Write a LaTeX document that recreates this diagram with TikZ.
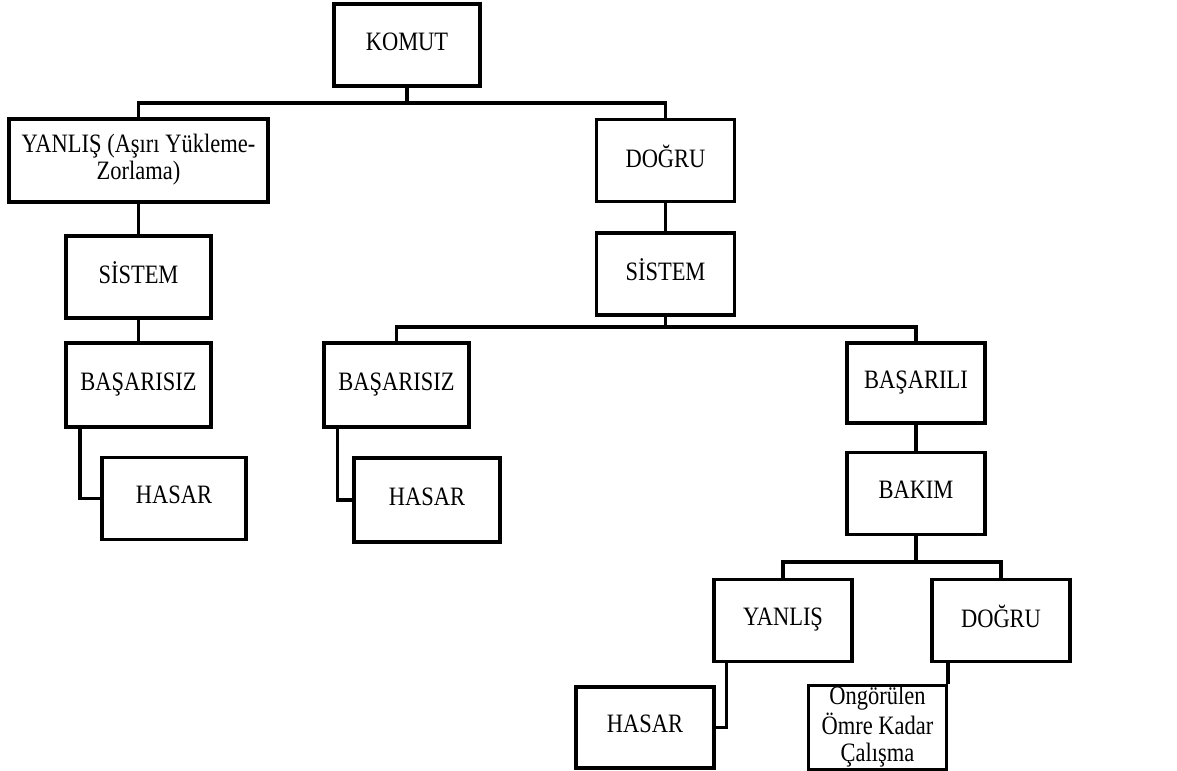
\documentclass[tikz,border=0pt]{standalone}
\usepackage{fontspec}
\setmainfont{Liberation Serif}
\usepackage{graphicx}
\usepackage{tikz}

% Text in the boxes is a little taller than wide
\newcommand{\boxtext}[1]{\scalebox{1}[1.18]{\renewcommand{\arraystretch}{1}%
  \begin{tabular}{@{}c@{}}#1\end{tabular}}}

\begin{document}
\begin{tikzpicture}[
  x=0.02cm, y=-0.02cm,
  box/.style={draw, line width=2pt, align=center, inner sep=1pt,
    font=\fontsize{12.8}{13.2}\selectfont},
  smallbox/.style={box, minimum width=2.76cm, minimum height=1.64cm},
  wide/.style={box, minimum width=5.18cm, minimum height=1.66cm},
  flow/.style={line width=2pt}]

\useasboundingbox (0,0) rectangle (1177,771);

% Position the nodes at their coordinates
\node[smallbox, minimum width=2.92cm] (komut) at (407,45) {\boxtext{KOMUT}};
\node[wide] (yanlisA) at (138.5,160.5) {\boxtext{YANLIŞ (Aşırı Yükleme-\\Zorlama)}};
\node[smallbox, minimum width=2.9cm] (sistemL) at (138.5,277) {\boxtext{SİSTEM}};
\node[smallbox, minimum width=2.9cm, minimum height=1.68cm] (basarisizL) at (138.5,385) {\boxtext{BAŞARISIZ}};
\node[smallbox, minimum width=2.88cm] (hasarL) at (174,498.5) {\boxtext{HASAR}};
\node[smallbox] (dogruT) at (665.5,160.5) {\boxtext{DOĞRU}};
\node[smallbox] (sistemR) at (665.5,274) {\boxtext{SİSTEM}};
\node[smallbox, minimum width=2.9cm, minimum height=1.68cm] (basarisizM) at (396.5,385) {\boxtext{BAŞARISIZ}};
\node[smallbox, minimum width=2.92cm, minimum height=1.68cm] (hasarM) at (427,500) {\boxtext{HASAR}};
\node[smallbox, minimum height=1.6cm] (basarili) at (916,383) {\boxtext{BAŞARILI}};
\node[smallbox] (bakim) at (916,493.5) {\boxtext{BAKIM}};
\node[smallbox] (yanlisB) at (783,620.5) {\boxtext{YANLIŞ}};
\node[smallbox] (dogruB) at (1001,620.5) {\boxtext{DOĞRU}};
\node[smallbox, minimum height=1.62cm] (hasarB) at (645,727.5) {\boxtext{HASAR}};
\node[smallbox, minimum height=1.62cm, inner sep=0pt] (omur) at (877.5,727.5) {\boxtext{Ongörülen\\Ömre Kadar\\Çalışma}};

% Branch points
\coordinate (komutSplit) at (407,103);
\coordinate (sistemSplit) at (665.5,327);
\coordinate (bakimSplit) at (916,562);

% Draw the connectors between the nodes
\draw[flow] (komut.south) -- (komutSplit);
\draw[flow] (yanlisA.north) |- (komutSplit) -| (dogruT.north);
\draw[flow] (yanlisA) -- (sistemL);
\draw[flow] (sistemL) -- (basarisizL);
\draw[flow] ([xshift=0.32cm]basarisizL.south west) |- (hasarL.west);
\draw[flow] (dogruT) -- (sistemR);
\draw[flow] (sistemR.south) -- (sistemSplit);
\draw[flow] (basarisizM.north) |- (sistemSplit) -| (basarili.north);
\draw[flow] ([xshift=0.3cm]basarisizM.south west) |- (hasarM.west);
\draw[flow] (basarili) -- (bakim);
\draw[flow] (bakim.south) -- (bakimSplit);
\draw[flow] (yanlisB.north) |- (bakimSplit) -| (dogruB.north);
\draw[flow] ([xshift=0.28cm]yanlisB.south west) |- (hasarB.east);
\draw[flow] (omur.north east) -- (omur.north east |- dogruB.south);

\end{tikzpicture}
\end{document}
